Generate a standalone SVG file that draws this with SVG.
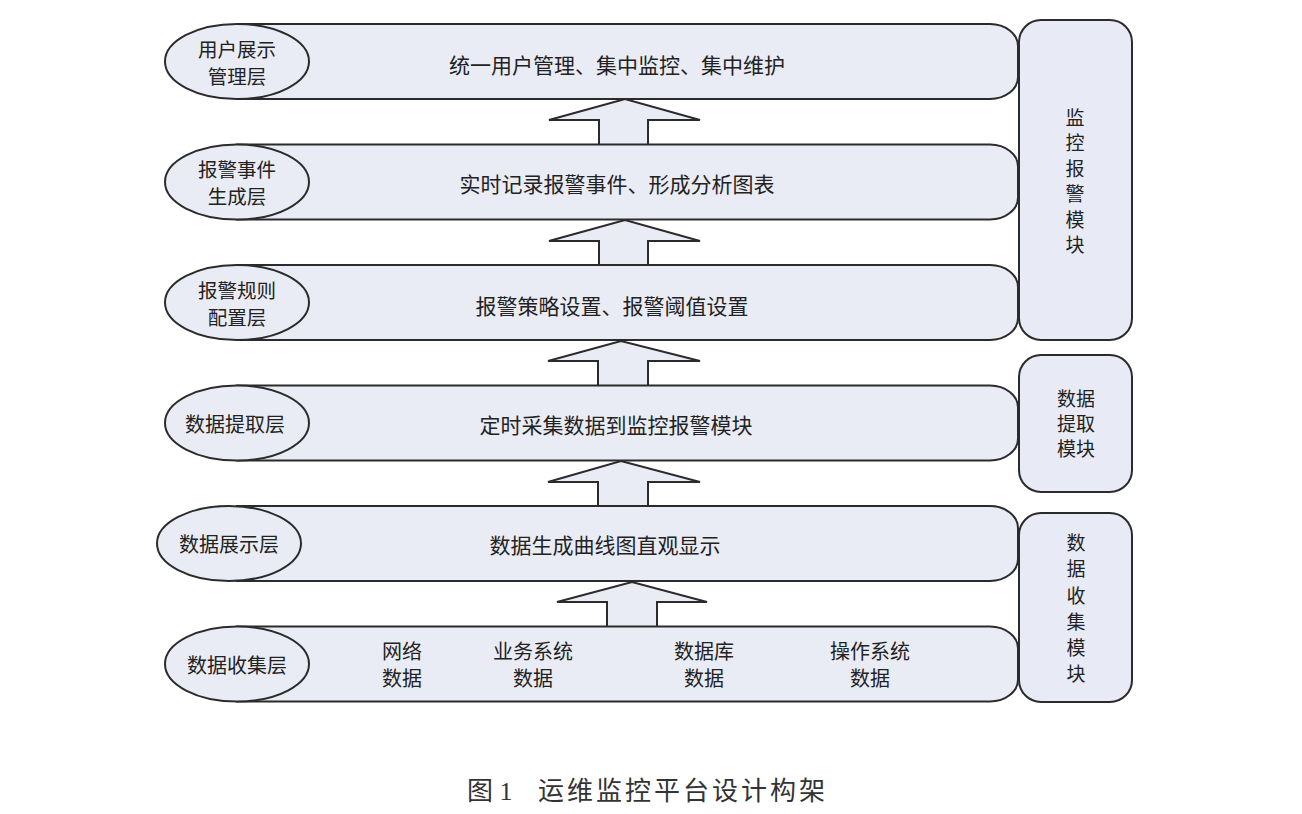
<svg xmlns="http://www.w3.org/2000/svg" width="1302" height="814" viewBox="0 0 1302 814">
<defs>
<style>
.bar{fill:#eaecf5;stroke:#2b2b2b;stroke-width:2}
.ell{fill:#eaecf5;stroke:#2b2b2b;stroke-width:2}
.mod{fill:#e8ebf6;stroke:#2b2b2b;stroke-width:2}
.arr{fill:#eaecf5;stroke:#2b2b2b;stroke-width:2}
.t{font-family:"Noto Sans CJK SC","Noto Sans",sans-serif;font-size:21px;fill:#222;text-anchor:middle;dominant-baseline:central}
.l{font-family:"Noto Sans CJK SC","Noto Sans",sans-serif;font-size:20px;fill:#222;text-anchor:middle;dominant-baseline:central}
.l2{font-family:"Noto Sans CJK SC","Noto Sans",sans-serif;font-size:19.5px;fill:#222;text-anchor:middle;dominant-baseline:central}
.m{font-family:"Noto Sans CJK SC","Noto Sans",sans-serif;font-size:19px;fill:#222;text-anchor:middle;dominant-baseline:central}
.cap{font-family:"Liberation Serif","Noto Sans CJK SC",serif;font-size:26px;fill:#333;dominant-baseline:central}
</style>
</defs>
<rect width="1302" height="814" fill="#ffffff"/>

<g id="connectors">
<path class="arr" d="M599,144 V120 H549 L625,99 L700,120 H648 V144"/>
<path class="arr" d="M599,265 V241 H549 L625,220 L700,241 H648 V265"/>
<path class="arr" d="M598,385 V361 H548 L621,341 L700,361 H648 V385"/>
<path class="arr" d="M598,506 V482 H548 L621,461 L700,482 H648 V506"/>
<path class="arr" d="M607,627 V602 H557 L632,582 L707,602 H657 V627"/>
</g>

<g id="layer-user">
<path class="bar" d="M237,24 H990 A28,22 0 0 1 1018,46 V77 A28,22 0 0 1 990,99 H237 Z"/>
<ellipse class="ell" cx="237" cy="61.5" rx="72" ry="37.5"/>
<text class="l2" x="237" y="48.5">用户展示</text>
<text class="l2" x="237" y="75.5">管理层</text>
<text class="t" x="617" y="64">统一用户管理、集中监控、集中维护</text>
</g>

<g id="layer-event">
<path class="bar" d="M237,144.5 H990 A28,22 0 0 1 1018,166.5 V197.5 A28,22 0 0 1 990,219.5 H237 Z"/>
<ellipse class="ell" cx="237" cy="182" rx="72" ry="37.5"/>
<text class="l2" x="237" y="168.5">报警事件</text>
<text class="l2" x="237" y="195.5">生成层</text>
<text class="t" x="617" y="183">实时记录报警事件、形成分析图表</text>
</g>

<g id="layer-rule">
<path class="bar" d="M237,265 H990 A28,22 0 0 1 1018,287 V318 A28,22 0 0 1 990,340 H237 Z"/>
<ellipse class="ell" cx="237" cy="302.5" rx="72" ry="37.5"/>
<text class="l2" x="237" y="289.5">报警规则</text>
<text class="l2" x="237" y="316.5">配置层</text>
<text class="t" x="612" y="305">报警策略设置、报警阈值设置</text>
</g>

<g id="layer-extract">
<path class="bar" d="M237,385.5 H990 A28,22 0 0 1 1018,407.5 V438.5 A28,22 0 0 1 990,460.5 H237 Z"/>
<ellipse class="ell" cx="237" cy="423" rx="72" ry="37.5"/>
<text class="l" x="235" y="423">数据提取层</text>
<text class="t" x="616" y="424">定时采集数据到监控报警模块</text>
</g>

<g id="layer-display">
<path class="bar" d="M237,506 H990 A28,22 0 0 1 1018,528 V559 A28,22 0 0 1 990,581 H237 Z"/>
<ellipse class="ell" cx="229" cy="543.5" rx="72" ry="37.5"/>
<text class="l" x="229" y="543">数据展示层</text>
<text class="t" x="605" y="544">数据生成曲线图直观显示</text>
</g>

<g id="layer-collect">
<path class="bar" d="M237,626.5 H990 A28,22 0 0 1 1018,648.5 V679.5 A28,22 0 0 1 990,701.5 H237 Z"/>
<ellipse class="ell" cx="237" cy="664" rx="72" ry="37.5"/>
<text class="l" x="237" y="664">数据收集层</text>
<text class="l" x="402" y="650">网络</text>
<text class="l" x="402" y="677">数据</text>
<text class="l" x="533" y="650">业务系统</text>
<text class="l" x="533" y="677">数据</text>
<text class="l" x="704" y="650">数据库</text>
<text class="l" x="704" y="677">数据</text>
<text class="l" x="870" y="650">操作系统</text>
<text class="l" x="870" y="677">数据</text>
</g>

<g id="module-monitor">
<rect class="mod" x="1019" y="20" width="113" height="320" rx="22" ry="22"/>
<text class="m" x="1075" y="116">监</text>
<text class="m" x="1075" y="141">控</text>
<text class="m" x="1075" y="167">报</text>
<text class="m" x="1075" y="192">警</text>
<text class="m" x="1075" y="218">模</text>
<text class="m" x="1075" y="243">块</text>
</g>

<g id="module-extract">
<rect class="mod" x="1019" y="355" width="113" height="137" rx="22" ry="22"/>
<text class="m" x="1076" y="397">数据</text>
<text class="m" x="1076" y="422">提取</text>
<text class="m" x="1076" y="447">模块</text>
</g>

<g id="module-collect">
<rect class="mod" x="1019" y="513" width="113" height="189" rx="22" ry="22"/>
<text class="m" x="1076" y="541">数</text>
<text class="m" x="1076" y="567">据</text>
<text class="m" x="1076" y="594">收</text>
<text class="m" x="1076" y="620">集</text>
<text class="m" x="1076" y="646">模</text>
<text class="m" x="1076" y="672">块</text>
</g>

<g id="caption">
<text class="cap" x="467" y="791">图 1</text>
<text class="cap" x="538" y="791" style="letter-spacing:3px">运维监控平台设计构架</text>
</g>
</svg>
